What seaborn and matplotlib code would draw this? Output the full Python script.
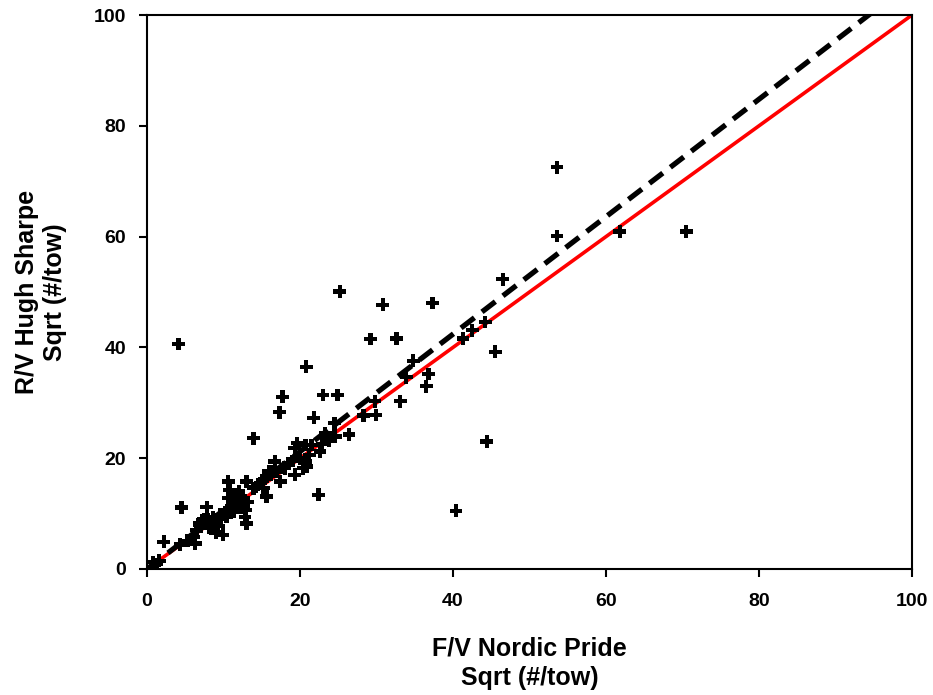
import numpy as np
import pandas as pd
import matplotlib
matplotlib.use("Agg")
import matplotlib.pyplot as plt
import seaborn as sns

# Data
nordic_pride = [0.8, 1.3, 1.6, 2.2, 4.5, 4.1, 4.3, 5.3, 6.3, 6.1, 6.5, 6.8, 7.0, 7.2, 7.6, 7.8, 7.9, 8.1,
                8.3, 8.6, 8.9, 9.0, 9.3, 9.6, 9.9, 10.2, 10.4, 10.6, 10.6, 10.8, 11.0, 11.3, 11.5, 11.8,
                12.0, 12.3, 12.5, 12.8, 13.0, 12.9, 13.0, 13.2, 13.9, 13.9, 14.5, 15.2, 14.8, 15.6, 15.6,
                15.9, 16.5, 16.7, 17.4, 17.3, 17.7, 18.5, 19.3, 20.0, 20.4, 20.7, 20.9, 19.3, 19.6, 20.7,
                21.5, 20.8, 21.8, 22.6, 22.4, 23.3, 24.6, 24.4, 24.5, 23.0, 24.9, 25.2, 26.4, 28.3, 29.9,
                29.8, 29.2, 30.8, 32.6, 33.1, 33.9, 34.8, 36.8, 36.5, 37.3, 40.4, 41.3, 42.5, 44.2, 44.4,
                45.5, 46.5, 53.6, 53.6, 61.8, 70.5, 17.0, 18.0, 19.0, 11.2, 10.9, 22.9, 23.8, 7.4, 8.8,
                9.7, 12.2, 14.2, 16.2, 21.2, 6.9]
hugh_sharpe = [1.2, 0.9, 1.5, 4.9, 11.1, 40.6, 4.4, 5.1, 4.6, 5.8, 7.0, 8.3, 7.6, 8.8, 8.2, 11.2, 9.0, 7.4,
               8.6, 9.3, 8.0, 6.6, 7.8, 9.8, 6.2, 10.3, 9.4, 15.8, 12.8, 14.3, 11.3, 10.3, 13.4, 12.2,
               14.0, 11.0, 12.6, 9.4, 8.2, 10.6, 15.8, 12.1, 14.6, 23.6, 15.2, 14.6, 15.5, 13.1, 16.7,
               17.6, 17.6, 19.4, 15.8, 28.3, 31.1, 19.1, 17.0, 20.0, 18.2, 19.4, 18.5, 21.8, 22.7, 22.4,
               22.4, 36.5, 27.3, 21.2, 13.4, 24.5, 23.9, 24.0, 26.3, 31.4, 31.4, 50.1, 24.3, 27.7, 27.8,
               30.3, 41.5, 47.7, 41.6, 30.3, 34.6, 37.6, 35.2, 33.0, 48.0, 10.5, 41.6, 43.1, 44.6, 23.0,
               39.2, 52.3, 72.5, 60.1, 60.9, 60.9, 17.5, 18.2, 19.5, 12.0, 10.8, 22.6, 23.2, 8.9, 8.4,
               9.0, 13.2, 14.8, 17.0, 20.6, 8.0]

line_x = [0, 100]
fit_slope = 1.06
one_to_one = [0, 100]
fit_line = [v * fit_slope for v in line_x]

x_ticks = [0, 20, 40, 60, 80, 100]
y_ticks = [0, 20, 40, 60, 80, 100]

sns.set_theme(style="white")
plt.rcParams['font.family'] = ['Liberation Sans', 'DejaVu Sans']
plt.rcParams['text.color'] = 'black'
plt.rcParams['axes.labelcolor'] = 'black'
plt.rcParams['xtick.color'] = 'black'
plt.rcParams['ytick.color'] = 'black'

fig = plt.figure(figsize=(9.33, 6.95), dpi=100)
ax = fig.add_axes([0.1576, 0.1813, 0.8199, 0.7971])

df = pd.DataFrame({"x": nordic_pride, "y": hugh_sharpe})
lines = pd.DataFrame({"x": line_x, "one": one_to_one, "fit": fit_line})

sns.lineplot(data=lines, x="x", y="one", ax=ax, color="#ff0000", linewidth=2.6, zorder=2)
sns.scatterplot(data=df, x="x", y="y", ax=ax, marker="P", s=85, color="black",
                edgecolor="none", zorder=3)
sns.lineplot(data=lines, x="x", y="fit", ax=ax, color="black", linewidth=3.8, zorder=4)
ax.lines[-1].set_dashes([3.2, 1.8])

ax.set_xlim(0, 100)
ax.set_ylim(0, 100)
ax.set_xticks(x_ticks)
ax.set_yticks(y_ticks)
ax.set_xticklabels([str(t) for t in x_ticks], fontsize=14, fontweight="bold")
ax.set_yticklabels([str(t) for t in y_ticks], fontsize=14, fontweight="bold")
ax.tick_params(axis="both", direction="out", length=6, width=1.5, color="black",
               labelcolor="black", bottom=True, left=True, top=False, right=False)
ax.tick_params(axis="x", pad=11)
ax.tick_params(axis="y", pad=9)

for sp in ax.spines.values():
    sp.set_visible(True)
    sp.set_color("black")
    sp.set_linewidth(1.5)

ax.set_xlabel("F/V Nordic Pride\nSqrt (#/tow)", fontsize=18, fontweight="bold", linespacing=1.3)
ax.xaxis.set_label_coords(0.5, -0.122, transform=ax.transAxes)
ax.xaxis.label.set_va("top")
ax.set_ylabel("R/V Hugh Sharpe\nSqrt (#/tow)", fontsize=18, fontweight="bold", linespacing=1.2)
ax.yaxis.set_label_coords(-0.105, 0.5, transform=ax.transAxes)

fig.savefig("out.png", dpi=100, facecolor="white")
